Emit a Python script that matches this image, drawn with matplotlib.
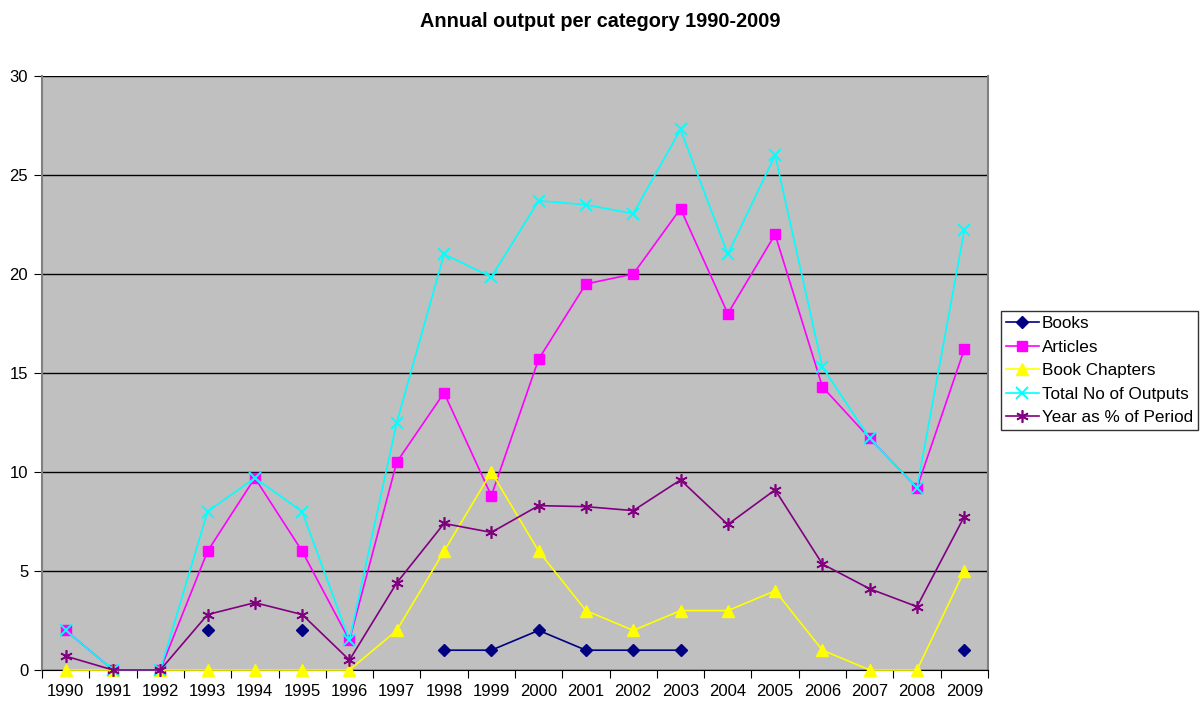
import numpy as np
import matplotlib.pyplot as plt

years = [str(y) for y in range(1990, 2010)]
nan = np.nan

books = [nan, nan, nan, 2, nan, 2, nan, nan, 1, 1, 2, 1, 1, 1, nan, nan, nan, nan, nan, 1]
articles = [2, 0, 0, 6, 9.7, 6, 1.5, 10.5, 14, 8.8, 15.7, 19.5, 20, 23.3, 18, 22, 14.3, 11.7, 9.2, 16.2]
chapters = [0, 0, 0, 0, 0, 0, 0, 2, 6, 10, 6, 3, 2, 3, 3, 4, 1, 0, 0, 5]
total = [2, 0, 0, 8, 9.7, 8, 1.5, 12.5, 21, 19.85, 23.7, 23.5, 23.05, 27.3, 21, 26, 15.3, 11.7, 9.2, 22.2]
year_pct = [0.7, 0, 0, 2.8, 3.4, 2.8, 0.5, 4.4, 7.4, 6.95, 8.3, 8.25, 8.05, 9.6, 7.35, 9.1, 5.35, 4.1, 3.2, 7.75]

plt.rcParams['font.family'] = ['Liberation Sans', 'DejaVu Sans']

fig = plt.figure(figsize=(12.01, 7.02), dpi=100)
ax = fig.add_axes([0.035, 0.0456, 0.7876, 0.8461])
ax.set_facecolor('#C0C0C0')

x = np.arange(len(years))
lw = 1.2
ax.plot(x, books, color='#000080', marker='D', markersize=6, lw=lw, label='Books',
        zorder=3, clip_on=False)
ax.plot(x, articles, color='#FF00FF', marker='s', markersize=7, lw=lw, label='Articles',
        zorder=3, clip_on=False)
ax.plot(x, chapters, color='#FFFF00', marker='^', markersize=8, lw=lw, label='Book Chapters',
        zorder=3, clip_on=False)
ax.plot(x, total, color='#00FFFF', marker='x', markersize=8, mew=1.4, lw=lw,
        label='Total No of Outputs', zorder=3, clip_on=False)
ax.plot(x, year_pct, color='#800080', marker=(6, 2, 0), markersize=9, mew=1.2, lw=lw,
        label='Year as % of Period', zorder=3, clip_on=False)

ax.set_xlim(-0.5, len(years) - 0.5)
ax.set_ylim(0, 30)
ax.set_yticks(range(0, 31, 5))
ax.yaxis.grid(True, color='black', lw=1)
ax.set_axisbelow(True)

# category axis: ticks between categories, labels centred
ax.set_xticks(np.arange(-0.5, len(years), 1.0))
ax.set_xticklabels([])
ax.set_xticks(x, minor=True)
ax.set_xticklabels(years, minor=True)
ax.tick_params(axis='x', which='minor', length=0, pad=10, labelsize=12)
ax.tick_params(axis='x', which='major', length=6, direction='out', color='black')
ax.tick_params(axis='y', length=6, direction='out', labelsize=12, pad=4)

for side in ['left', 'right']:
    ax.spines[side].set_color('#808080')
    ax.spines[side].set_linewidth(1.5)
ax.spines['top'].set_visible(False)
ax.spines['bottom'].set_color('black')

fig.suptitle('Annual output per category 1990-2009', fontsize=14.3, fontweight='bold', y=0.983)

leg = fig.legend(loc='upper left', bbox_to_anchor=(0.8335, 0.557), fontsize=12.3, frameon=True,
                 fancybox=False, edgecolor='black', borderpad=0.3, labelspacing=0.5,
                 handlelength=1.9, handletextpad=0.2, borderaxespad=0)
leg.get_frame().set_linewidth(1)

fig.savefig('out.png', dpi=100)
